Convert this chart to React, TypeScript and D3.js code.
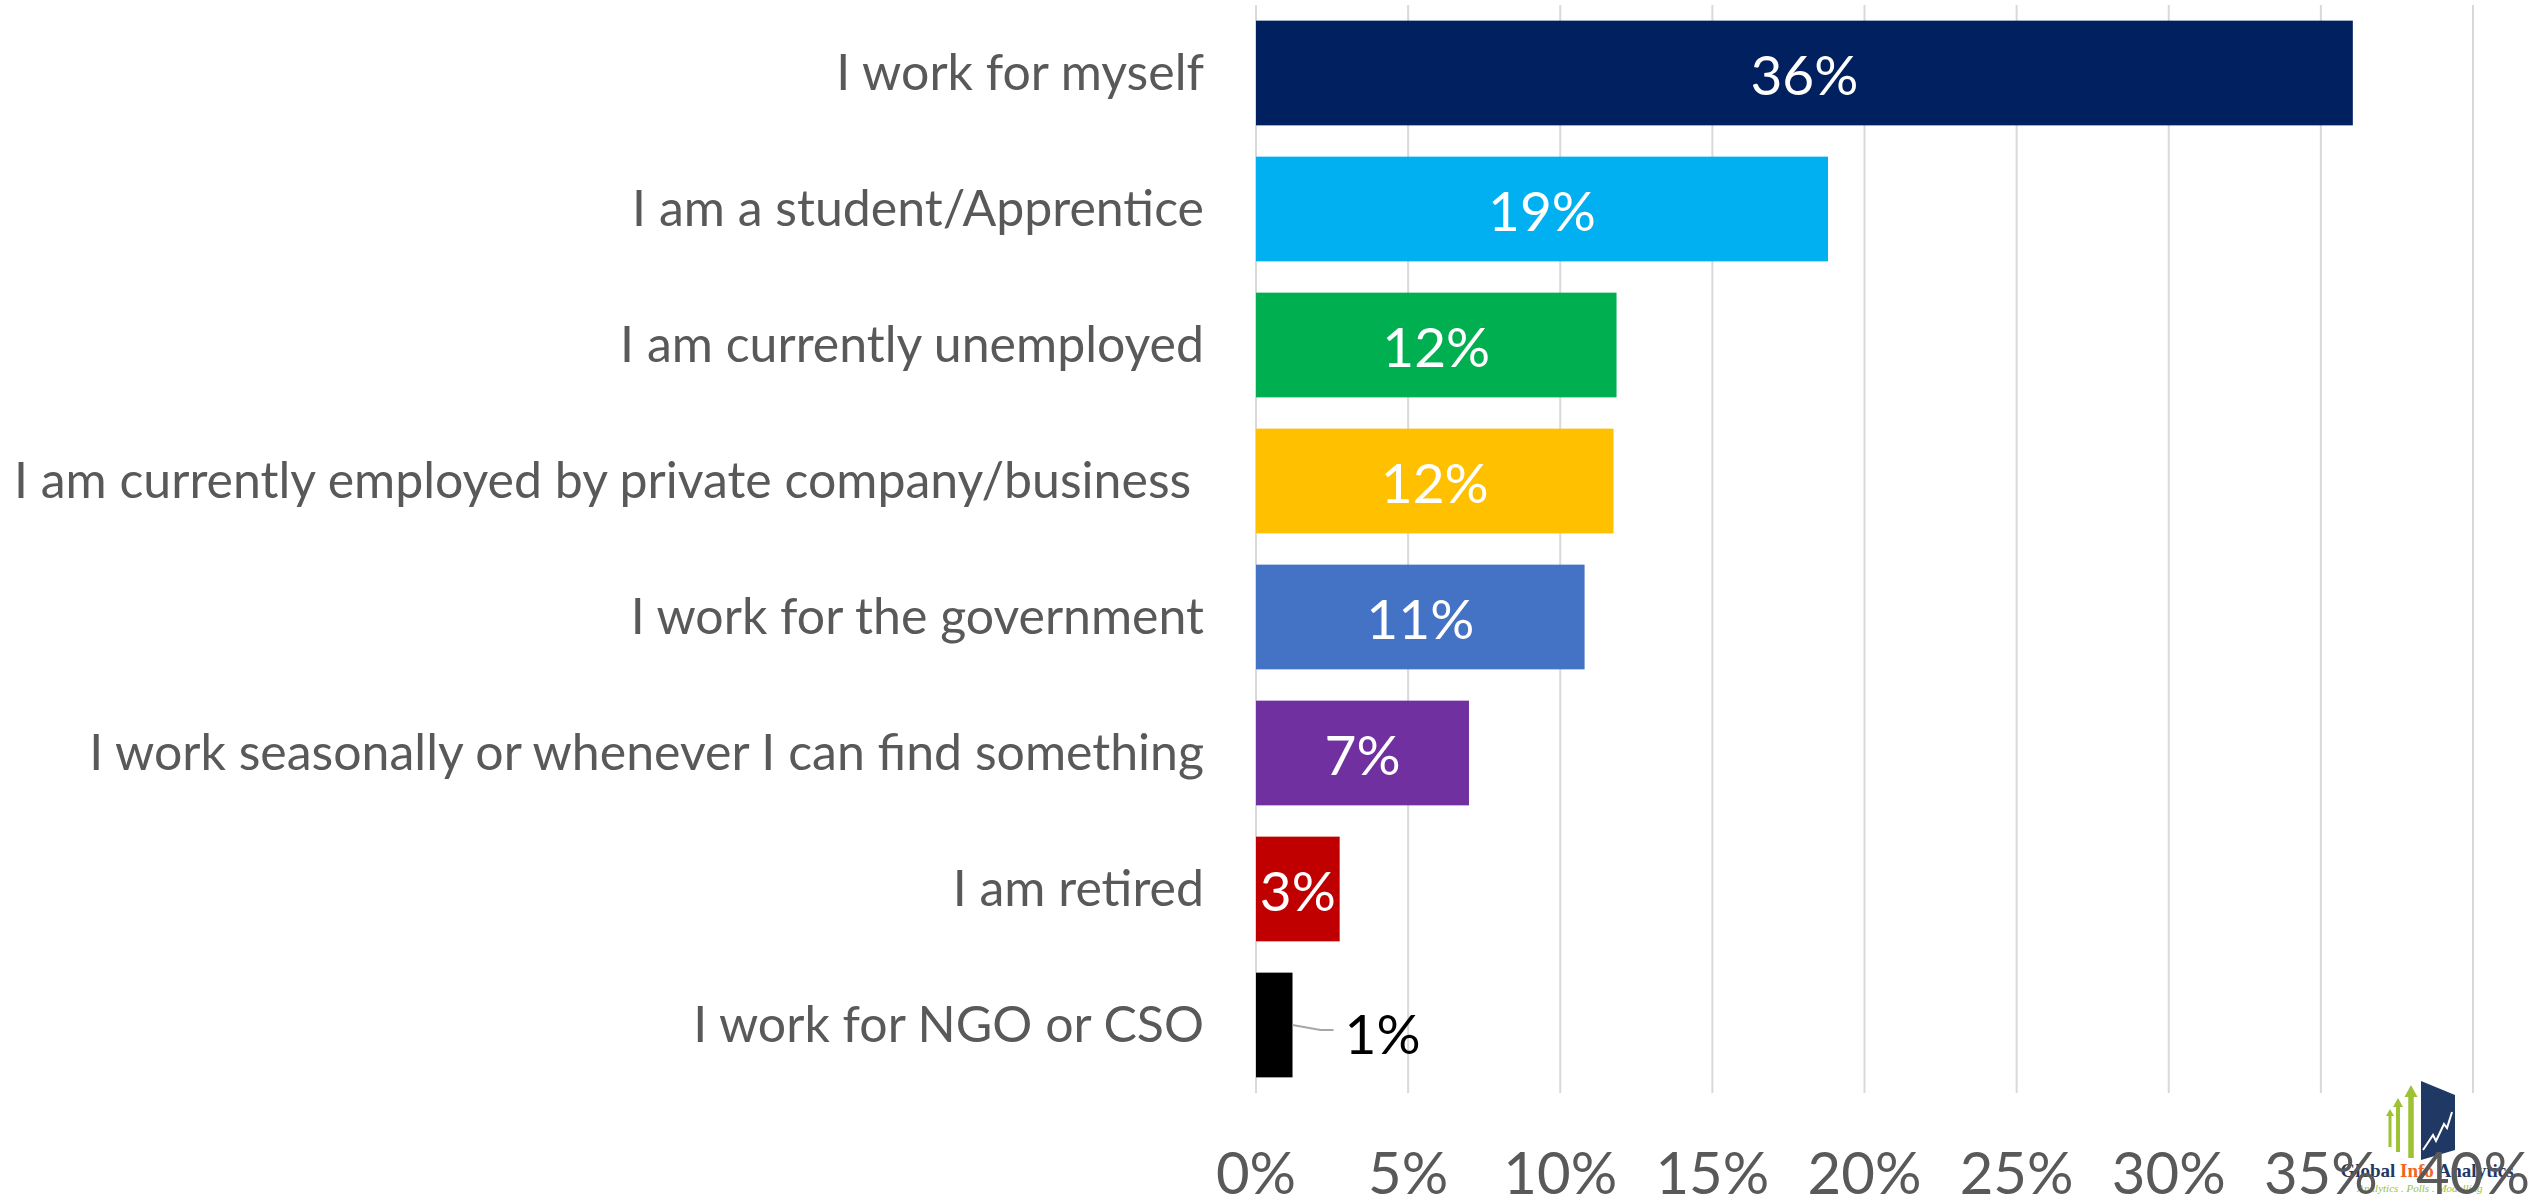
import React, { useRef, useLayoutEffect } from 'react';
import * as d3 from 'd3';

// chart data
const categories = [
  'I work for myself',
  'I am a student/Apprentice',
  'I am currently unemployed',
  'I am currently employed by private company/business ',
  'I work for the government',
  'I work seasonally or whenever I can find something',
  'I am retired',
  'I work for NGO or CSO',
];
const shares = [0.3605, 0.188, 0.1185, 0.1175, 0.108, 0.07, 0.0275, 0.012];
const barColors = ['#002060', '#00B0F0', '#00B050', '#FFC000', '#4472C4', '#7030A0', '#C00000', '#000000'];
const ticks = [0, 0.05, 0.1, 0.15, 0.2, 0.25, 0.3, 0.35, 0.4];

const FONT = 'Lato, "Open Sans", sans-serif';

const App = () => {
  const svgRef = useRef<SVGSVGElement>(null);

  useLayoutEffect(() => {
    const w = 2539;
    const h = 1202;
    const svg = d3.select(svgRef.current);
    svg.selectAll('*').remove();
    svg.attr('width', w).attr('height', h);

    const top = 5;
    const bottom = 1093;
    const x = d3.scaleLinear().domain([0, 0.4]).range([1256, 2473]);
    const y = d3.scaleBand<string>()
      .domain(categories)
      .range([top, bottom])
      .paddingInner(0.23)
      .paddingOuter(0.115);

    // gridlines
    svg.append('g')
      .selectAll('line')
      .data(ticks)
      .join('line')
      .attr('x1', d => x(d))
      .attr('x2', d => x(d))
      .attr('y1', top)
      .attr('y2', bottom)
      .attr('stroke', '#D9D9D9')
      .attr('stroke-width', 2);

    // bars
    svg.append('g')
      .selectAll('rect')
      .data(shares)
      .join('rect')
      .attr('x', x(0))
      .attr('y', (d, i) => y(categories[i])!)
      .attr('width', d => x(d) - x(0))
      .attr('height', y.bandwidth())
      .attr('fill', (d, i) => barColors[i]);

    // category labels
    svg.append('g')
      .selectAll('text')
      .data(categories)
      .join('text')
      .attr('x', 1204)
      .attr('y', d => y(d)! + y.bandwidth() / 2)
      .attr('dy', '0.33em')
      .attr('text-anchor', 'end')
      .style('white-space', 'pre')
      .attr('font-family', FONT)
      .attr('font-size', 50)
      .attr('fill', '#595959')
      .text(d => d);

    // value labels
    const fmt = d3.format('.0%');
    const inside = shares.map(v => v > 0.02);
    svg.append('g')
      .selectAll('text')
      .data(shares)
      .join('text')
      .attr('x', (d, i) => inside[i] ? (x(0) + x(d)) / 2 : x(d) + 52)
      .attr('y', (d, i) => y(categories[i])! + y.bandwidth() / 2 + (inside[i] ? 0 : 7))
      .attr('dy', '0.4em')
      .attr('text-anchor', (d, i) => inside[i] ? 'middle' : 'start')
      .attr('font-family', FONT)
      .attr('font-size', 55)
      .attr('fill', (d, i) => inside[i] ? '#FFFFFF' : '#000000')
      .text(d => fmt(d));

    // leader line for the outside label
    shares.forEach((d, i) => {
      if (inside[i]) return;
      const cy = y(categories[i])! + y.bandwidth() / 2;
      svg.append('path')
        .attr('d', d3.line()([[x(d), cy], [x(d) + 28, cy + 5], [x(d) + 41, cy + 5]]))
        .attr('fill', 'none')
        .attr('stroke', '#A6A6A6')
        .attr('stroke-width', 2);
    });

    // logo (bottom right)
    const logo = svg.append('g');
    const green = '#9DC234';
    [[2390, 1109, 1147, 6], [2398, 1098, 1152, 8], [2411, 1085, 1158, 11]].forEach(([ax, y1, y2, bw]) => {
      logo.append('rect').attr('x', ax - bw / 4).attr('y', y1 + bw).attr('width', bw / 2).attr('height', y2 - y1 - bw).attr('fill', green);
      logo.append('path')
        .attr('d', `M${ax - bw / 2 - 1},${y1 + bw + 1} L${ax},${y1} L${ax + bw / 2 + 1},${y1 + bw + 1} Z`)
        .attr('fill', green);
    });
    logo.append('path').attr('d', 'M2421,1081 L2455,1095 L2455,1150 L2421,1160 Z').attr('fill', '#1F3864');
    logo.append('path')
      .attr('d', 'M2423,1150 L2433,1135 L2436,1141 L2444,1124 L2447,1128 L2452,1112')
      .attr('fill', 'none').attr('stroke', '#FFFFFF').attr('stroke-width', 2);
    const lt = logo.append('text')
      .attr('x', 2427).attr('y', 1177)
      .attr('text-anchor', 'middle')
      .attr('font-family', '"Liberation Serif", serif')
      .attr('font-weight', 'bold')
      .attr('font-size', 19)
      .attr('fill', '#1F3864');
    lt.append('tspan').text('Global ');
    lt.append('tspan').attr('fill', '#F26522').text('Info ');
    lt.append('tspan').text('Analytics');
    logo.append('text')
      .attr('x', 2420).attr('y', 1192)
      .attr('text-anchor', 'middle')
      .attr('font-family', '"Liberation Serif", serif')
      .attr('font-style', 'italic')
      .attr('font-size', 11)
      .attr('fill', green)
      .text('Analytics . Polls . Modelling');

    // x axis tick labels
    svg.append('g')
      .selectAll('text')
      .data(ticks)
      .join('text')
      .attr('x', d => x(d))
      .attr('y', 1194)
      .attr('text-anchor', 'middle')
      .attr('font-family', FONT)
      .attr('font-size', 58)
      .attr('fill', '#595959')
      .text(d => fmt(d));
  }, []);

  return (
    <div style={{ position: 'absolute', left: 0, top: 0 }}>
      <svg ref={svgRef} style={{ display: 'block', background: '#FFFFFF' }}></svg>
    </div>
  );
};

export default App;
